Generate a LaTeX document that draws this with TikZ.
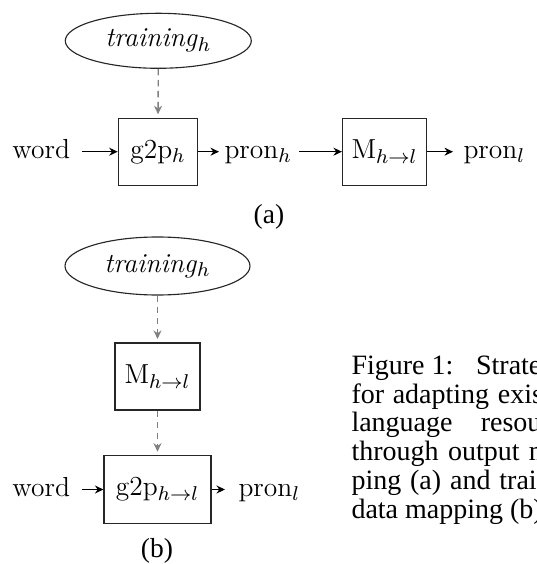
\documentclass[tikz,border=0pt]{standalone}
\usepackage{fontspec}
\newfontfamily\capfont{Liberation Serif}
\usetikzlibrary{arrows.meta,shapes.geometric}
\tikzset{
  dtext/.style={font=\fontsize{11}{13}\selectfont},
  word/.style={dtext, inner sep=0pt, anchor=base west},
  box/.style={dtext, draw=black!85, line width=0.45pt, rectangle, inner sep=0pt},
  cloud/.style={dtext, draw=black!85, line width=0.45pt, ellipse, inner sep=0pt},
  arr/.style={-{Stealth[length=3.4pt,width=3.2pt]}, line width=0.5pt, black},
  darr/.style={-{Stealth[length=3.4pt,width=3.2pt]}, line width=0.55pt, draw=black!50, dash pattern=on 2.6pt off 1.8pt},
  lab/.style={font=\capfont\fontsize{11}{11.5}\selectfont, inner sep=0pt, anchor=base},
}
\begin{document}
\begin{tikzpicture}[x=0.4pt,y=-0.4pt]
\useasboundingbox (0,0) rectangle (537,564);
\clip (0,0) rectangle (537,564);
% ---------- (a)
\node[cloud, minimum width=74.4pt, minimum height=22pt] (ta) at (158.3,40.8) {\textit{training}$_h$};
\node[box, minimum width=31.8pt, minimum height=26.7pt] (ga) at (158,151.7) {g2p$_h$};
\node[box, minimum width=33.6pt, minimum height=26.7pt] (ma) at (384.5,151.7) {M$_{h\to l}$};
\node[word] (worda) at (12,158.5) {word};
\node[word] (pronh) at (224,158.5) {pron$_h$};
\node[word] (pronl) at (463,158.5) {pron$_l$};
\draw[darr, shorten >=1.4pt] (ta.south) -- (ga.north);
\draw[arr, shorten <=4.6pt] (worda.east |- ga.west) -- (ga.west);
\draw[arr, shorten >=2pt] (ga.east) -- (pronh.west |- ga.east);
\draw[arr, shorten <=2.7pt] (pronh.east |- ma.west) -- (ma.west);
\draw[arr, shorten >=4pt] (ma.east) -- (pronl.west |- ma.east);
\node[lab] (capa) at (269,224) {(a)};
% ---------- (b)
\node[cloud, minimum width=74pt, minimum height=23.2pt] (tb) at (157.5,266) {\textit{training}$_h$};
\node[box, minimum width=34pt, minimum height=26.8pt] (mb) at (157.5,376.5) {M$_{h\to l}$};
\node[box, minimum width=42.8pt, minimum height=27pt] (gb) at (157.5,489.5) {g2p$_{h\to l}$};
\node[word] (wordb) at (12,496.5) {word};
\node[word] (pronb) at (238,496.5) {pron$_l$};
\draw[darr, shorten >=1.4pt] (tb.south) -- (mb.north);
\draw[darr, shorten >=1.4pt] (mb.south) -- (gb.north);
\draw[arr, shorten <=4.4pt] (wordb.east |- gb.west) -- (gb.west);
\draw[arr, shorten >=5.2pt] (gb.east) -- (pronb.west |- gb.east);
\node[lab] (capb) at (157,557) {(b)};
% ---------- caption
\node[inner sep=0pt, anchor=base west] (cap) at (351,374.3)
  {\parbox[t]{94pt}{\capfont\fontsize{11.2}{11.5}\selectfont
   Figure\kern0.25em 1: Strategies\linebreak
   for adapting existing\linebreak
   language resources\linebreak
   through output map-\linebreak
   ping (a) and training\linebreak
   data mapping (b).}};
\end{tikzpicture}
\end{document}
